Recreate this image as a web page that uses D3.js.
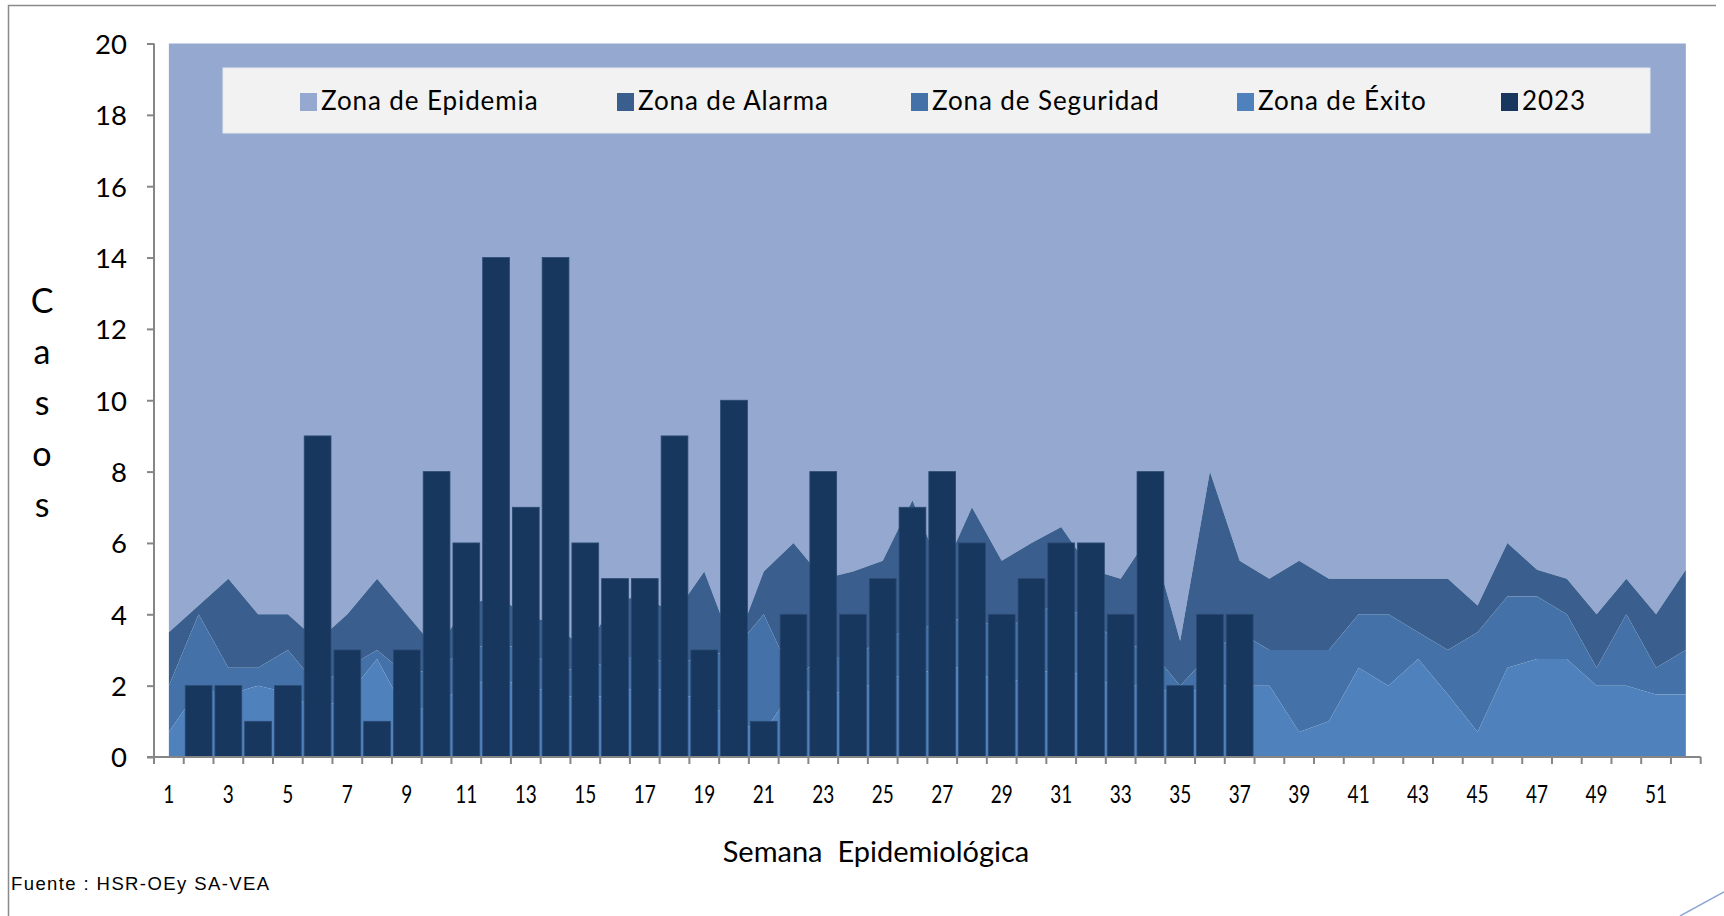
<!DOCTYPE html>
<html>
<head>
<meta charset="utf-8">
<script src="https://cdn.jsdelivr.net/npm/d3@7/dist/d3.min.js"></script>
<style>
  html, body { margin: 0; padding: 0; background: #ffffff; }
  svg { display: block; }
</style>
</head>
<body>
<svg id="chart" width="1724" height="916"></svg>
<script>
// ---------------- DATA ----------------
const weeks = [1,2,3,4,5,6,7,8,9,10,11,12,13,14,15,16,17,18,19,20,21,22,23,24,25,26,
               27,28,29,30,31,32,33,34,35,36,37,38,39,40,41,42,43,44,45,46,47,48,49,50,51,52];

// upper boundary of each zone (cumulative values, casos)
const exitoTop = [0.7,1.9,1.75,2.0,1.8,1.3,1.7,2.75,1.2,1.5,
                  2.0,2.2,2.0,1.8,1.6,1.8,2.0,1.8,1.6,1.0,
                  0.7,1.9,1.8,1.8,2.2,2.3,2.5,2.5,2.0,2.3,
                  2.5,2.2,2.0,2.0,1.75,2.0,2.0,2.0,0.7,1.0,
                  2.5,2.0,2.75,1.75,0.7,2.5,2.75,2.75,2.0,2.0,
                  1.75,1.75];
const seguridadTop = [2.0,4.0,2.5,2.5,3.0,2.0,2.5,3.0,2.3,2.5,
                      3.0,3.2,3.0,2.5,2.4,2.8,2.8,2.6,2.8,3.0,
                      4.0,2.2,2.8,2.8,3.3,3.6,3.7,4.0,3.5,4.0,
                      4.3,3.8,3.2,3.0,2.0,2.9,3.5,3.0,3.0,3.0,
                      4.0,4.0,3.5,3.0,3.5,4.5,4.5,4.0,2.5,4.0,
                      2.5,3.0];
const alarmaTop = [3.5,4.25,5.0,4.0,4.0,3.25,4.0,5.0,4.0,3.0,
                   4.25,4.5,4.0,3.7,3.0,4.4,4.5,4.0,5.2,3.0,
                   5.2,6.0,5.0,5.2,5.5,7.2,5.15,7.0,5.5,6.0,
                   6.45,5.25,5.0,6.25,3.25,8.0,5.5,5.0,5.5,5.0,
                   5.0,5.0,5.0,5.0,4.25,6.0,5.25,5.0,4.0,5.0,
                   4.0,5.25];
const epidemiaTop = 20;

const casos2023 = [0,2,2,1,2,9,3,1,3,8,
                   6,14,7,14,6,5,5,9,3,10,
                   1,4,8,4,5,7,8,6,4,5,
                   6,6,4,8,2,4,4,null,null,null,
                   null,null,null,null,null,null,null,null,null,null,
                   null,null];

const yTicks = [0,2,4,6,8,10,12,14,16,18,20];
const xTickLabels = [1,3,5,7,9,11,13,15,17,19,21,23,25,27,29,31,33,35,37,39,41,43,45,47,49,51];

const legendNames = ["Zona de Epidemia","Zona de Alarma","Zona de Seguridad","Zona de Éxito","2023"];
const colors = {
  epidemia: "#95A9D0",
  alarma: "#3A5F8E",
  seguridad: "#4472A8",
  exito: "#4F81BD",
  bar: "#17375E"
};
const legendColors = [colors.epidemia, colors.alarma, colors.seguridad, colors.exito, colors.bar];

// ---------------- LAYOUT ----------------
const svg = d3.select("#chart");
const x = d3.scaleBand().domain(weeks).range([154, 1700.7]).paddingInner(0).paddingOuter(0);
const xc = w => x(w) + x.bandwidth() / 2;
const y = d3.scaleLinear().domain([0, 20]).range([757, 43.5]);

// chart border
svg.append("path")
  .attr("d", "M8.5,916 V5.5 H1716")
  .attr("fill", "none").attr("stroke", "#8a8a8a").attr("stroke-width", 1.5);
// decorative corner line
svg.append("path")
  .attr("d", "M1680,916 L1724,892")
  .attr("fill", "none").attr("stroke", "#8EA6D6").attr("stroke-width", 1.5);

const rows = weeks.map((w, i) => ({
  w, e: exitoTop[i], s: seguridadTop[i], a: alarmaTop[i], top: epidemiaTop
}));

const areaGen = (lo, hi) => d3.area()
  .x(d => xc(d.w))
  .y0(d => y(lo(d)))
  .y1(d => y(hi(d)));

const gAreas = svg.append("g");
gAreas.append("path").datum(rows).attr("fill", colors.epidemia)
  .attr("d", areaGen(d => d.a, d => d.top));
gAreas.append("path").datum(rows).attr("fill", colors.alarma)
  .attr("d", areaGen(d => d.s, d => d.a));
gAreas.append("path").datum(rows).attr("fill", colors.seguridad)
  .attr("d", areaGen(d => d.e, d => d.s));
gAreas.append("path").datum(rows).attr("fill", colors.exito)
  .attr("d", areaGen(d => 0, d => d.e));

// bars
const bw = x.bandwidth() * 0.9;
svg.append("g").selectAll("rect")
  .data(weeks.map((w, i) => ({ w, v: casos2023[i] })).filter(d => d.v != null && d.v > 0))
  .join("rect")
  .attr("x", d => xc(d.w) - bw / 2)
  .attr("width", bw)
  .attr("y", d => y(d.v))
  .attr("height", d => y(0) - y(d.v))
  .attr("fill", colors.bar)
  .attr("stroke", "#2B4A72")
  .attr("stroke-width", 0.8);

// Y axis
const yAxis = svg.append("g")
  .attr("transform", "translate(154,0)")
  .call(d3.axisLeft(y).tickValues(yTicks).tickSize(7).tickPadding(20));
yAxis.select(".domain").attr("stroke", "#868686").attr("stroke-width", 2)
  .attr("d", `M0,${y(20)}V${y(0)}`);
yAxis.selectAll(".tick line").attr("stroke", "#868686").attr("stroke-width", 2);
yAxis.selectAll(".tick text")
  .attr("font-family", "Lato, 'Open Sans', sans-serif")
  .attr("font-size", 27.5).attr("fill", "#000").attr("dy", "0.36em");

// X axis
const xAxis = svg.append("g")
  .attr("transform", `translate(0,${y(0)})`)
  .call(d3.axisBottom(x).tickValues(xTickLabels).tickSize(0));
xAxis.select(".domain").remove();
xAxis.selectAll(".tick text")
  .attr("font-family", "Lato, 'Open Sans', sans-serif")
  .attr("font-size", 25).attr("fill", "#000")
  .attr("y", 46).attr("dy", 0)
  .attr("transform", "scale(0.76,1)");
xAxis.append("line")
  .attr("x1", 147).attr("x2", x.range()[1])
  .attr("y1", 0).attr("y2", 0)
  .attr("stroke", "#868686").attr("stroke-width", 2);
const bounds = weeks.map(w => x(w)).concat([x.range()[1]]);
xAxis.selectAll(".btick").data(bounds).join("line")
  .attr("class", "btick")
  .attr("x1", d => d).attr("x2", d => d)
  .attr("y1", 0).attr("y2", 7)
  .attr("stroke", "#868686").attr("stroke-width", 2);

// Axis titles
svg.append("text")
  .attr("x", 876).attr("y", 862)
  .attr("text-anchor", "middle")
  .attr("font-family", "Lato, 'Open Sans', sans-serif")
  .attr("font-size", 29)
  .style("white-space", "pre")
  .text("Semana  Epidemiológica");

const yTitle = "Casos".split("");
svg.append("g").selectAll("text").data(yTitle).join("text")
  .attr("x", 42).attr("y", (d, i) => 313 + i * 51)
  .attr("text-anchor", "middle")
  .attr("font-family", "Lato, 'Open Sans', sans-serif")
  .attr("font-size", 34)
  .text(d => d);

svg.append("text")
  .attr("x", 11).attr("y", 890)
  .attr("font-family", "'Liberation Sans', Arial, sans-serif")
  .attr("font-size", 18.5)
  .attr("letter-spacing", 1.4)
  .text("Fuente : HSR-OEy SA-VEA");

// Legend
const lg = svg.append("g");
lg.append("rect")
  .attr("x", 223).attr("y", 68).attr("width", 1427).attr("height", 65)
  .attr("fill", "#F2F2F2").attr("stroke", "#E4E8EF").attr("stroke-width", 1);
const legendX = [300, 617, 911, 1237, 1501];
const items = lg.selectAll("g.item").data(legendNames).join("g")
  .attr("class", "item")
  .attr("transform", (d, i) => `translate(${legendX[i]},0)`);
items.append("rect")
  .attr("x", 0).attr("y", 93).attr("width", 17).attr("height", 18)
  .attr("fill", (d, i) => legendColors[i]);
items.append("text")
  .attr("x", 21).attr("y", 110)
  .attr("font-family", "Lato, 'Open Sans', sans-serif")
  .attr("font-size", 26)
  .attr("letter-spacing", 0.9)
  .attr("fill", "#000")
  .text(d => d);
</script>
</body>
</html>
